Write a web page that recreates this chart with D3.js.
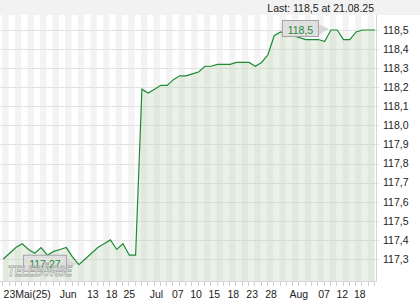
<!DOCTYPE html>
<html>
<head>
<meta charset="utf-8">
<script src="https://cdn.jsdelivr.net/npm/d3@7"></script>
<style>
body{margin:0;background:#fff}
svg{display:block;font-family:"Liberation Sans",Arial,sans-serif}
</style>
</head>
<body>
<svg id="chart"></svg>
<script>
// daily prices, 23.05.25 - 21.08.25
var prices = [
    117.30, 117.33, 117.36, 117.38, 117.35, 117.33, 117.36, 117.32, 117.34, 117.35,
    117.36, 117.31, 117.27, 117.30, 117.33, 117.36, 117.38, 117.40, 117.35, 117.38,
    117.32, 117.32, 118.19, 118.17, 118.19, 118.21, 118.21, 118.24, 118.26, 118.26,
    118.27, 118.28, 118.31, 118.31, 118.32, 118.32, 118.32, 118.33, 118.33, 118.33,
    118.31, 118.33, 118.37, 118.47, 118.49, 118.48, 118.47, 118.46, 118.45, 118.45,
    118.45, 118.44, 118.50, 118.50, 118.45, 118.45, 118.49, 118.50, 118.50, 118.50
];
var xLabels = ["23Mai(25)","Jun","13","18","25","Jul","07","10","15","18","23","28","Aug","07","12","18"];
// where each label sits, in data index units
var xLabelIdx = [3.8,10.3,14.2,17.2,20,24.3,27.7,30.6,33.5,36.5,39.5,42.5,46.9,50.9,53.8,56.6];
var yTicks = [117.3,117.4,117.5,117.6,117.7,117.8,117.9,118.0,118.1,118.2,118.3,118.4,118.5];
var lastValue = 118.5;
var lastDate = "21.08.25";

var comma = function(v) { return String(v).replace(".", ","); };
var tickFmt = function(v) { return d3.format(".1f")(v).replace(".", ","); };

var drawChart = function(target)
{
    var screen = {width:420, height:300};
    var plot = {left:0, right:376, top:15, bottom:281};
    var green = "#1f8a36";

    var svg = d3.select(target)
        .attr("width", screen.width)
        .attr("height", screen.height);

    var xScale = d3.scaleLinear()
        .domain([0, prices.length - 1])
        .range([3.3, 375]);
    var yScale = d3.scaleLinear()
        .domain([117.3, 118.5])
        .range([259, 30]);

    // top band
    svg.append("rect")
        .attr("x", 0).attr("y", 0)
        .attr("width", screen.width).attr("height", plot.top)
        .attr("fill", "#f2f2f2");

    svg.append("text")
        .attr("x", 374).attr("y", 11.5)
        .attr("text-anchor", "end")
        .attr("font-size", "10.5px")
        .attr("fill", "#222")
        .text("Last: " + comma(lastValue) + " at " + lastDate);

    // day stripes
    svg.append("g")
        .selectAll("rect")
        .data(d3.range(0, prices.length - 1, 2))
        .enter()
        .append("rect")
        .attr("x", function(i) { return xScale(i) - 1; })
        .attr("y", plot.top)
        .attr("width", function(i) { return xScale(i + 1) - xScale(i); })
        .attr("height", plot.bottom - plot.top)
        .attr("fill", "#f3f3f3");

    // horizontal grid + right axis
    var grid = svg.append("g");
    grid.selectAll("line")
        .data(yTicks)
        .enter()
        .append("line")
        .attr("x1", plot.left).attr("x2", plot.right + 3)
        .attr("y1", function(d) { return Math.round(yScale(d)) + 0.5; })
        .attr("y2", function(d) { return Math.round(yScale(d)) + 0.5; })
        .attr("stroke", "#e2e2e2");
    grid.selectAll("text")
        .data(yTicks)
        .enter()
        .append("text")
        .attr("x", 383)
        .attr("y", function(d) { return yScale(d); })
        .attr("dy", "0.36em")
        .attr("font-size", "10.5px")
        .attr("fill", "#222")
        .text(tickFmt);

    // area + line
    var area = d3.area()
        .x(function(d, i) { return xScale(i); })
        .y0(plot.bottom)
        .y1(function(d) { return yScale(d); });
    var line = d3.line()
        .x(function(d, i) { return xScale(i); })
        .y(function(d) { return yScale(d); });

    svg.append("path")
        .datum(prices)
        .attr("d", area)
        .attr("fill", "rgba(185,212,180,0.3)");
    svg.append("path")
        .datum(prices)
        .attr("d", line)
        .attr("fill", "none")
        .attr("stroke", green)
        .attr("stroke-width", 1.2);

    // frame right/bottom
    svg.append("path")
        .attr("d", "M" + (plot.right + 0.5) + "," + plot.top + "V" + (plot.bottom + 0.5) + "H" + plot.left)
        .attr("fill", "none")
        .attr("stroke", "#d6d6d6");

    // small day ticks
    svg.append("g")
        .selectAll("line")
        .data(d3.range(0, prices.length))
        .enter()
        .append("line")
        .attr("x1", function(i) { return Math.round(xScale(i) - 1) + 0.5; })
        .attr("x2", function(i) { return Math.round(xScale(i) - 1) + 0.5; })
        .attr("y1", plot.bottom + 1).attr("y2", plot.bottom + 5)
        .attr("stroke", "#d0d0d0");

    svg.append("g")
        .selectAll("text")
        .data(xLabels)
        .enter()
        .append("text")
        .attr("x", function(d, i) { return xScale(xLabelIdx[i]); })
        .attr("y", 297.5)
        .attr("text-anchor", "middle")
        .attr("font-size", "10.5px")
        .attr("fill", "#222")
        .text(function(d) { return d; });

    // min / max flags
    var flag = function(idx, w)
    {
        var px = xScale(idx), py = yScale(prices[idx]);
        var right = px - 13, left = right - w;
        var g = svg.append("g");
        g.append("path")
            .attr("d", "M" + right + "," + (py - 6) + "L" + (px - 2) + "," + (py - 1) + "L" + right + "," + (py + 5) + "Z")
            .attr("fill", "#d8d8d8");
        g.append("rect")
            .attr("x", left + 0.5).attr("y", py - 9.5)
            .attr("width", w).attr("height", 16)
            .attr("fill", "#e0e0e0")
            .attr("stroke", "#a5a5a5");
        g.append("text")
            .attr("x", left + w / 2 + 0.5).attr("y", py + 3.5)
            .attr("text-anchor", "middle")
            .attr("font-size", "10.5px")
            .attr("fill", green)
            .text(comma(prices[idx]));
    };
    flag(d3.maxIndex(prices), 36);
    flag(d3.minIndex(prices), 43);

    // watermark, drawn over the chart
    svg.append("text")
        .attr("x", 8).attr("y", 276)
        .attr("font-size", "14px")
        .attr("font-weight", "bold")
        .attr("font-style", "italic")
        .attr("textLength", 64)
        .attr("lengthAdjust", "spacingAndGlyphs")
        .attr("fill", "rgba(255,255,255,0.75)")
        .attr("stroke", "#9a9a9a")
        .attr("stroke-width", 0.8)
        .attr("opacity", 0.85)
        .text("TELEBÖRSE");
};

drawChart("#chart");
</script>
</body>
</html>
